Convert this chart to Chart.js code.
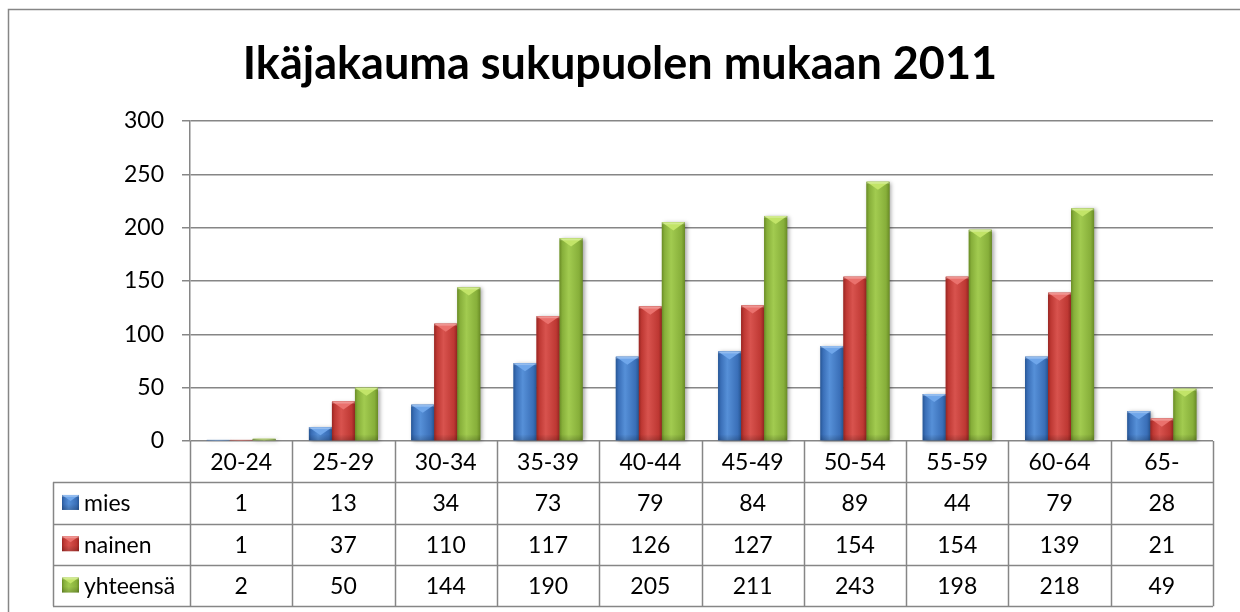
<!DOCTYPE html>
<html>
<head>
<meta charset="utf-8">
<script src="https://cdn.jsdelivr.net/npm/chart.js@4/dist/chart.umd.min.js"></script>
<style>
  html, body { margin: 0; padding: 0; background: #fff; }
  #wrap { width: 1240px; height: 612px; }
</style>
</head>
<body>
<div id="wrap"><canvas id="myChart" width="1240" height="612"></canvas></div>
<script>
// --- data ---
const ageGroups = ['20-24', '25-29', '30-34', '35-39', '40-44', '45-49', '50-54', '55-59', '60-64', '65-'];
const mies = [1, 13, 34, 73, 79, 84, 89, 44, 79, 28];
const nainen = [1, 37, 110, 117, 126, 127, 154, 154, 139, 21];
const yhteensa = [2, 50, 144, 190, 205, 211, 243, 198, 218, 49];
const seriesNames = ['mies', 'nainen', 'yhteensä'];
const yTicks = [0, 50, 100, 150, 200, 250, 300];

// bevel colours: edge, light, mid, top face
const palette = [
    { base: '#3F73BC', edge: '#285796', light: '#5690D8', mid: '#3A6FB8', top: '#6FA6EA' },
    { base: '#C23C37', edge: '#982622', light: '#D8534E', mid: '#BE3833', top: '#EA716D' },
    { base: '#8BB43E', edge: '#6A8C26', light: '#A2CB50', mid: '#87AF3A', top: '#C2E468' }
];

const FONT = 'Lato, "Open Sans", sans-serif';
const gridGray = '#868686';

function paintBar(ctx, left, top, w, h, c, shadow) {
    if (h <= 0) return;
    ctx.save();
    if (shadow) {
        ctx.shadowColor = 'rgba(0,0,0,0.35)';
        ctx.shadowBlur = 4;
        ctx.shadowOffsetX = 2;
        ctx.shadowOffsetY = 1;
    }
    const g = ctx.createLinearGradient(left, 0, left + w, 0);
    g.addColorStop(0, c.edge);
    g.addColorStop(0.12, c.mid);
    g.addColorStop(0.4, c.light);
    g.addColorStop(0.85, c.mid);
    g.addColorStop(1, c.edge);
    ctx.fillStyle = g;
    ctx.fillRect(left, top, w, h);
    ctx.restore();

    // top bevel chevron
    const bh = Math.min(w * 0.35, h);
    ctx.save();
    ctx.beginPath();
    ctx.moveTo(left, top);
    ctx.lineTo(left + w, top);
    ctx.lineTo(left + w / 2, top + bh);
    ctx.closePath();
    ctx.fillStyle = c.top;
    ctx.fill();
    ctx.fillStyle = 'rgba(255,255,255,0.25)';
    ctx.fillRect(left, top, w, Math.min(2, h));
    // bottom darkening
    const gb = ctx.createLinearGradient(0, top + h - 6, 0, top + h);
    gb.addColorStop(0, 'rgba(0,0,0,0)');
    gb.addColorStop(1, 'rgba(0,0,0,0.18)');
    ctx.fillStyle = gb;
    ctx.fillRect(left, Math.max(top, top + h - 6), w, Math.min(6, h));
    ctx.restore();
}

const bevelBars = {
    id: 'bevelBars',
    afterDatasetsDraw(chart) {
        const ctx = chart.ctx;
        chart.data.datasets.forEach((ds, di) => {
            const meta = chart.getDatasetMeta(di);
            meta.data.forEach(el => {
                const left = el.x - el.width / 2;
                const top = Math.min(el.y, el.base);
                const h = Math.abs(el.base - el.y);
                paintBar(ctx, left, top, el.width, h, palette[di], true);
            });
        });
    }
};

const frameAndTable = {
    id: 'frameAndTable',
    beforeDraw(chart) {
        const ctx = chart.ctx;
        ctx.save();
        ctx.fillStyle = '#fff';
        ctx.fillRect(0, 0, chart.width, chart.height);
        ctx.strokeStyle = gridGray;
        ctx.lineWidth = 1.5;
        ctx.strokeRect(8.5, 9.5, chart.width + 20, chart.height + 20);
        ctx.restore();
    },
    afterDraw(chart) {
        const ctx = chart.ctx;
        const area = chart.chartArea;
        const n = ageGroups.length;
        const cw = (area.right - area.left) / n;
        const top = area.bottom;
        const rowH = 41.3;
        const tableLeft = 53;
        const rows = [mies, nainen, yhteensa];
        const bottom = top + rowH * 4;

        ctx.save();
        ctx.strokeStyle = gridGray;
        ctx.lineWidth = 1.5;
        ctx.beginPath();
        // category boundaries
        for (let i = 0; i <= n; i++) {
            const x = Math.round(area.left + i * cw) + 0.5;
            ctx.moveTo(x, top);
            ctx.lineTo(x, bottom);
        }
        // legend column left border
        ctx.moveTo(tableLeft + 0.5, top + rowH);
        ctx.lineTo(tableLeft + 0.5, bottom);
        // horizontal lines
        for (let r = 1; r <= 4; r++) {
            const y = Math.round(top + r * rowH) + 0.5;
            ctx.moveTo(tableLeft, y);
            ctx.lineTo(area.right, y);
        }
        ctx.stroke();

        ctx.fillStyle = '#000';
        ctx.font = '23px ' + FONT;
        ctx.textBaseline = 'middle';
        ctx.textAlign = 'center';
        const xs = chart.scales.x;
        ageGroups.forEach((lab, i) => {
            ctx.fillText(lab, xs.getPixelForValue(i), top + rowH / 2 + 1);
        });
        rows.forEach((vals, r) => {
            const cy = top + rowH * (r + 1.5) + 1;
            vals.forEach((v, i) => {
                ctx.fillText(String(v), xs.getPixelForValue(i), cy);
            });
        });
        // legend cells
        ctx.textAlign = 'left';
        seriesNames.forEach((name, r) => {
            const cy = top + rowH * (r + 1.5);
            paintBar(ctx, 62, cy - 8, 17, 15, palette[r], false);
            ctx.fillStyle = '#000';
            ctx.fillText(name, 84, cy + 1);
        });
        ctx.restore();
    }
};

const ctx = document.getElementById('myChart').getContext('2d');
const myChart = new Chart(ctx, {
    type: 'bar',
    data: {
        labels: ageGroups,
        datasets: [
            { label: seriesNames[0], data: mies, backgroundColor: palette[0].base },
            { label: seriesNames[1], data: nainen, backgroundColor: palette[1].base },
            { label: seriesNames[2], data: yhteensa, backgroundColor: palette[2].base }
        ]
    },
    options: {
        responsive: false,
        animation: false,
        layout: { padding: { left: 0, right: 0, top: 0, bottom: 171 } },
        datasets: {
            bar: { categoryPercentage: 0.675, barPercentage: 1.0 }
        },
        plugins: {
            legend: { display: false },
            tooltip: { enabled: false },
            title: {
                display: true,
                text: 'Ikäjakauma sukupuolen mukaan 2011',
                color: '#000',
                font: { family: FONT, size: 45, weight: 'bold', lineHeight: 1.2 },
                padding: { top: 37, bottom: 30 }
            }
        },
        scales: {
            x: { display: false },
            y: {
                min: 0,
                max: 300,
                afterFit(scale) { scale.width = 190; },
                afterBuildTicks(scale) { scale.ticks = yTicks.map(v => ({ value: v })); },
                ticks: {
                    color: '#000',
                    padding: 18,
                    font: { family: FONT, size: 23 }
                },
                grid: {
                    color: gridGray,
                    lineWidth: 1.5,
                    tickLength: 8,
                    drawTicks: true
                },
                border: { color: gridGray, width: 1.5 }
            },
            // empty right gutter so the title centres on the full width
            gutter: {
                type: 'linear',
                position: 'right',
                display: true,
                afterFit(scale) { scale.width = 27; },
                ticks: { display: false },
                grid: { display: false, drawTicks: false },
                border: { display: false }
            }
        }
    },
    plugins: [frameAndTable, bevelBars]
});
</script>
</body>
</html>
